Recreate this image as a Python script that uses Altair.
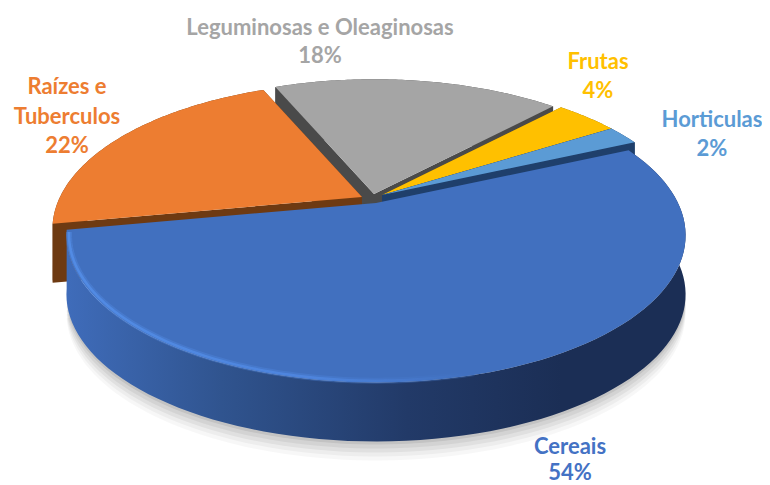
import math
import altair as alt

categories = ["Cereais", "Raízes e Tuberculos", "Leguminosas e Oleaginosas", "Frutas", "Horticulas"]
shares = [53.8, 21.5, 18.49, 4.05, 2.16]
top_colors = ["#4170BF", "#ED7D31", "#A5A5A5", "#FFC000", "#5B9BD5"]
wall_colors = ["#1B2E55", "#6E3A12", "#4A4A4A", "#7A6010", "#1F3F6B"]
label_colors = ["#4472C4", "#ED7D31", "#A5A5A5", "#FFC000", "#5B9BD5"]

START = -24.2
A, B, K = 302.0, 140.0, 0.22
DEPTH = 59.0
apexes = [(376, 203), (362, 197), (374, 194), (382, 195), (382, 195)]

PROJ = alt.Projection(type="identity", scale=1, translate=[-8, -8])


def rim(i, t, inset=1.0):
    u, v = inset * math.cos(math.radians(t)), inset * math.sin(math.radians(t))
    w = 1 - K * v
    ax, ay = apexes[i]
    return [ax + A * u / w, ay + B * v / w]


def arc(i, t0, t1, inset=1.0, n=90):
    return [rim(i, t0 + (t1 - t0) * k / n, inset) for k in range(n + 1)]


def down(pts, d=DEPTH):
    return [[p[0], p[1] + d] for p in pts]


def poly(ring):
    return {"type": "Feature", "properties": {},
            "geometry": {"type": "Polygon", "coordinates": [ring + [ring[0]]]}}


def geo(feature, **kw):
    return alt.Chart(alt.Data(values=[feature])).mark_geoshape(**kw).project(**PROJ.to_dict())


spans = []
acc = START
for s in shares:
    spans.append((acc, acc + s * 3.6))
    acc += s * 3.6

layers = []

# soft shadow under the front slice
t0, t1 = spans[0]
base = down(arc(0, t0 + 18, t1 - 4))
for dy, op in [(3, 0.07), (7, 0.06), (11, 0.05), (15, 0.04), (19, 0.03)]:
    layers.append(geo(poly(down(base, dy)), fill="#000000", opacity=op, strokeWidth=0))

# back slices, far to near
for i in [2, 3, 4, 1]:
    t0, t1 = spans[i]
    r = arc(i, t0, t1)
    ax = list(apexes[i])
    for ring in ([ax, r[0], down([r[0]])[0], down([ax])[0]],
                 [ax, r[-1], down([r[-1]])[0], down([ax])[0]],
                 r + down(r)[::-1]):
        layers.append(geo(poly(ring), fill=wall_colors[i], strokeWidth=0))
    layers.append(geo(poly([ax] + r), fill=top_colors[i], strokeWidth=0))

# front slice
t0, t1 = spans[0]
r = arc(0, t0, t1)
wall_grad = alt.LinearGradient(
    gradient="linear", x1=0, x2=1, y1=0, y2=0,
    stops=[alt.GradientStop(offset=0, color="#3F6CBA"),
           alt.GradientStop(offset=0.25, color="#30548F"),
           alt.GradientStop(offset=0.55, color="#223A68"),
           alt.GradientStop(offset=0.8, color="#1B2E55"),
           alt.GradientStop(offset=1, color="#1B2E55")])
layers.append(geo(poly(r + down(r)[::-1]), fill=wall_grad, strokeWidth=0))
layers.append(geo(poly([list(apexes[0])] + r), fill=top_colors[0], strokeWidth=0))

# bevel highlight along the front rim
hl_grad = alt.LinearGradient(
    gradient="linear", x1=0, x2=1, y1=0, y2=0,
    stops=[alt.GradientStop(offset=0, color="#5590EA"),
           alt.GradientStop(offset=0.6, color="#5088E2"),
           alt.GradientStop(offset=1, color="#4170BF")])
hl = arc(0, t1 - 1, 75, inset=0.992)
for sw, op in [(6, 0.35), (2.5, 0.8)]:
    layers.append(alt.Chart(alt.Data(values=[{
        "type": "Feature", "properties": {},
        "geometry": {"type": "LineString", "coordinates": hl}}])).mark_geoshape(
        filled=False, stroke=hl_grad, strokeWidth=sw, opacity=op).project(**PROJ.to_dict()))

# labels
label_lines = {
    0: [("Cereais", 570, 447)],
    1: [("Raízes e", 67, 87), ("Tuberculos", 67, 117)],
    2: [("Leguminosas e Oleaginosas", 320, 28)],
    3: [("Frutas", 598, 62)],
    4: [("Horticulas", 712, 120)],
}
pct_pos = {0: (570, 473), 1: (67, 146), 2: (320, 56), 3: (598, 91), 4: (712, 149)}
for i, lines in label_lines.items():
    px, py = pct_pos[i]
    for txt, x, y in lines + [(f"{round(shares[i])}%", px, py)]:
        layers.append(
            alt.Chart(alt.Data(values=[{"t": txt}])).mark_text(
                font="Lato", fontWeight="bold", fontSize=22, color=label_colors[i],
                align="center", baseline="middle"
            ).encode(text="t:N", x=alt.value(x - 8), y=alt.value(y - 8))
        )

chart = alt.layer(*layers).properties(
    width=754, height=477, padding=0, background="white",
    autosize=alt.AutoSizeParams(type="none")
).configure_view(strokeWidth=0, stroke="transparent")

chart.save("out.html", embed_options={"renderer": "svg", "actions": False})
